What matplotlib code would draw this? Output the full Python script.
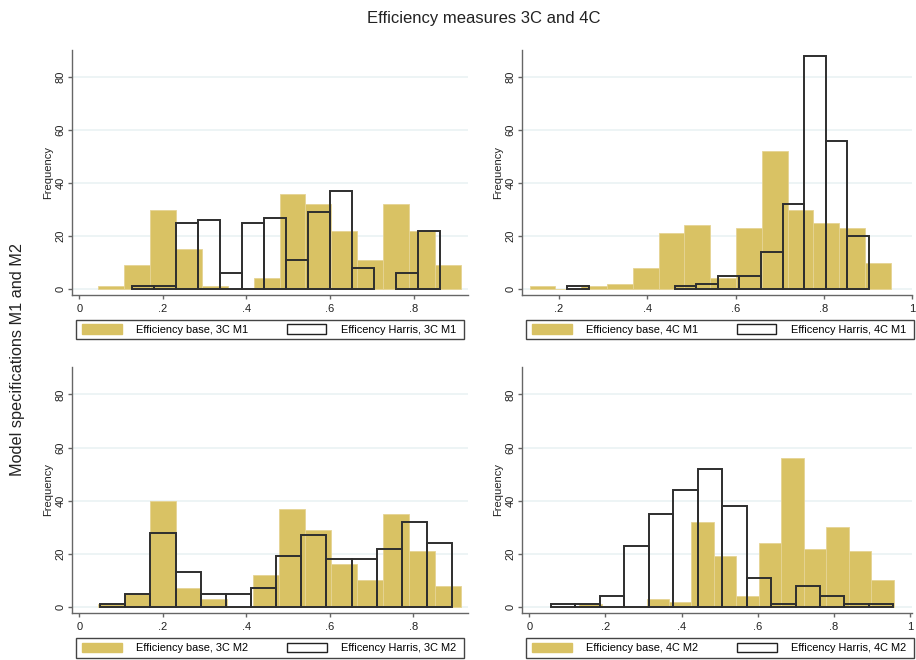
import numpy as np
import matplotlib.pyplot as plt
from matplotlib.patches import Patch, Rectangle
from matplotlib.ticker import FuncFormatter

# Histogram bins (first edge, last edge) and counts
base_3c_m1_range = (0.044, 0.914)
base_3c_m1 = [1, 9, 30, 15, 1, 0, 4, 36, 32, 22, 11, 32, 22, 9]
harris_3c_m1_range = (0.127, 0.863)
harris_3c_m1 = [1, 1, 25, 26, 6, 25, 27, 11, 29, 37, 8, 0, 6, 22]

base_4c_m1_range = (0.133, 0.952)
base_4c_m1 = [1, 0, 1, 2, 8, 21, 24, 4, 23, 52, 30, 25, 23, 10]
harris_4c_m1_range = (0.218, 0.902)
harris_4c_m1 = [1, 0, 0, 0, 0, 1, 2, 5, 5, 14, 32, 88, 56, 20]

base_3c_m2_range = (0.044, 0.914)
base_3c_m2 = [1, 5, 40, 7, 3, 0, 12, 37, 29, 16, 10, 35, 21, 8]
harris_3c_m2_range = (0.050, 0.893)
harris_3c_m2 = [1, 5, 28, 13, 5, 5, 7, 19, 27, 18, 18, 22, 32, 24]

base_4c_m2_range = (0.131, 0.957)
base_4c_m2 = [1, 0, 0, 3, 2, 32, 19, 4, 24, 56, 22, 30, 21, 10]
harris_4c_m2_range = (0.057, 0.956)
harris_4c_m2 = [1, 1, 4, 23, 35, 44, 52, 38, 11, 1, 8, 4, 1, 1]

panels = [
    ("3C M1", base_3c_m1_range, base_3c_m1, harris_3c_m1_range, harris_3c_m1),
    ("4C M1", base_4c_m1_range, base_4c_m1, harris_4c_m1_range, harris_4c_m1),
    ("3C M2", base_3c_m2_range, base_3c_m2, harris_3c_m2_range, harris_3c_m2),
    ("4C M2", base_4c_m2_range, base_4c_m2, harris_4c_m2_range, harris_4c_m2),
]

W, H = 916, 660
gold = '#D9C264'
outline = '#2e2e2e'

fig = plt.figure(figsize=(W / 100, H / 100), dpi=100)
plt.rcParams['font.family'] = 'Liberation Sans'

# axes boxes in pixels: left, right, top, bottom
boxes = [(72, 468, 50, 295), (522, 912, 50, 295),
         (72, 468, 367, 613), (522, 912, 367, 613)]
# legend frames in pixels: left, right, top, bottom
legboxes = [(76, 464, 320, 339), (526, 914, 320, 339),
            (76, 464, 638, 658), (526, 914, 638, 658)]
xlims = [(-0.0175, 0.93), (0.116, 1.0), (-0.0175, 0.931), (-0.019, 1.005)]
xticks = [[0, .2, .4, .6, .8], [.2, .4, .6, .8, 1], [0, .2, .4, .6, .8], [0, .2, .4, .6, .8, 1]]


def fmt(v, pos):
    s = ('%g' % v)
    return s[1:] if s.startswith('0.') else s


for (name, br, bc, hr, hc), (l, r, t, b), (ll, lr, lt, lb), xl, xt in zip(
        panels, boxes, legboxes, xlims, xticks):
    ax = fig.add_axes([l / W, 1 - b / H, (r - l) / W, (b - t) / H])

    e = np.linspace(br[0], br[1], len(bc) + 1)
    ax.bar(e[:-1], bc, width=np.diff(e), align='edge', color=gold,
           edgecolor='#E6D494', linewidth=0.6, zorder=2)

    e = np.linspace(hr[0], hr[1], len(hc) + 1)
    hc = np.array(hc)
    m = hc > 0
    ax.bar(e[:-1][m], hc[m], width=np.diff(e)[m], align='edge', fill=False,
           edgecolor=outline, linewidth=1.4, zorder=3)

    ax.set_xlim(xl)
    ax.set_ylim(-2.26, 90.3)
    ax.set_yticks([0, 20, 40, 60, 80])
    ax.set_xticks(xt)
    ax.xaxis.set_major_formatter(FuncFormatter(fmt))
    ax.grid(axis='y', color='#EAF2F3', linewidth=1.2, zorder=0)
    ax.set_axisbelow(True)
    for s in ['top', 'right']:
        ax.spines[s].set_visible(False)
    for s in ['left', 'bottom']:
        ax.spines[s].set_color('#666666')
        ax.spines[s].set_linewidth(1.0)
    ax.tick_params(colors='#666666', length=3, width=1.0, labelsize=8, labelcolor='#222222')
    ax.tick_params(axis='y', pad=1.8)
    plt.setp(ax.get_yticklabels(), rotation=90, va='center')
    ax.set_ylabel('Frequency', fontsize=8, labelpad=1.5, color='#222222')

    # legend frame and entries
    aw, ah = r - l, b - t
    fig.add_artist(Rectangle((ll / W, 1 - lb / H), (lr - ll) / W, (lb - lt) / H,
                             transform=fig.transFigure, fill=False,
                             edgecolor='#444444', linewidth=1.0))
    handles = [Patch(facecolor=gold, edgecolor=gold),
               Patch(facecolor='white', edgecolor='#222222', linewidth=1.0)]
    labels = ['Efficiency base, ' + name, 'Efficency Harris, ' + name]
    x0 = (ll + 6 - l) / aw
    x1 = (lr - 8 - l) / aw
    y0 = (b - lb) / ah
    y1 = (b - lt) / ah
    ax.legend(handles, labels, loc='center', bbox_to_anchor=(x0, y0, x1 - x0, y1 - y0),
              mode='expand', ncol=2, fontsize=7.9, frameon=False,
              handlelength=3.6, handleheight=1.0, borderpad=0, borderaxespad=0,
              columnspacing=1.0, handletextpad=1.3)

fig.text(484 / W, 1 - 18 / H, 'Efficiency measures 3C and 4C', ha='center', va='center',
         fontsize=12, color='#222222')
fig.text(18 / W, 1 - 360 / H, 'Model specifications M1 and M2', ha='center', va='center',
         rotation=90, fontsize=11.7, color='#222222')

fig.savefig('out.png', dpi=100)
